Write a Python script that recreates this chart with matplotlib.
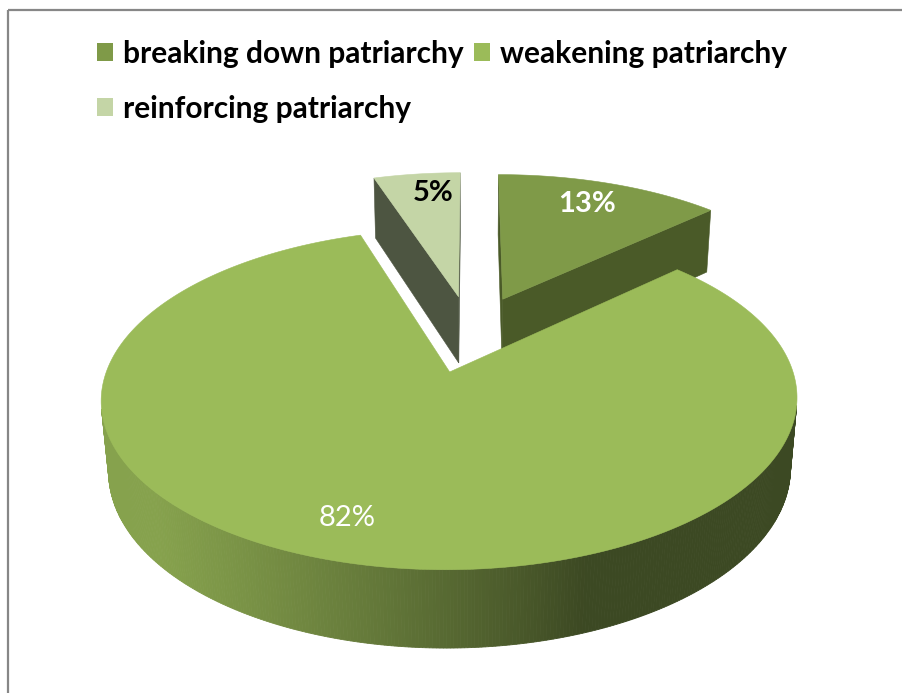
import numpy as np
import matplotlib
matplotlib.use("Agg")
import matplotlib.pyplot as plt
from matplotlib.patches import Polygon, Patch, Rectangle
from matplotlib.colors import to_rgb

# ---------------- data ----------------
categories = ["breaking down patriarchy", "weakening patriarchy", "reinforcing patriarchy"]
values = [13, 82, 5]
value_labels = ["13%", "82%", "5%"]

# ---------------- style ----------------
top_colors = ["#7F9A48", "#9BBB59", "#C4D5A6"]
face_colors = ["#4A5A28", "#4A5A28", "#4D5541"]
label_colors = ["white", "white", "black"]
label_weights = ["bold", "normal", "bold"]
label_nudge = [(-2, -3), (-24, 3), (8, -5)]
FONT = "Lato"

W, HP = 903, 693
fig = plt.figure(figsize=(W / 100, HP / 100), dpi=100)
ax = fig.add_axes([0, 0, 1, 1])
ax.set_xlim(0, W)
ax.set_ylim(HP, 0)
ax.axis("off")

# perspective camera for the 3-D pie
OX, OY = 471.0, 333.3
FOC = 1887.0
DIST = 5.71
SN = 0.465
CS = np.sqrt(1 - SN ** 2)
EXPLODE = 0.25
THICK = 0.237
cam = np.array([0.0, -DIST * CS])
light = np.array([-np.cos(np.radians(20)), -np.sin(np.radians(20))])


def proj(X, Y, Z):
    X = np.atleast_1d(np.asarray(X, float))
    Y = np.broadcast_to(np.asarray(Y, float), X.shape)
    Z = np.broadcast_to(np.asarray(Z, float), X.shape)
    depth = DIST + Z * CS - Y * SN
    up = Y * CS + Z * SN
    return np.column_stack([OX + FOC * X / depth, OY - FOC * up / depth])


def wall_color(base, theta):
    n = np.array([np.sin(theta), np.cos(theta)])
    t = np.clip((n @ light) / 0.94, 0, 1)
    return np.clip(np.array(to_rgb(base)) * (0.39 + 0.476 * t), 0, 1)


total = float(sum(values))
start = 0.0
slices = []
for i, v in enumerate(values):
    span = 360.0 * v / total
    a0, a1 = start, start + span
    mid = np.radians((a0 + a1) / 2)
    slices.append((i, np.radians(a0), np.radians(a1),
                   EXPLODE * np.sin(mid), EXPLODE * np.cos(mid)))
    start = a1

for i, t0, t1, cx, cz in sorted(slices, key=lambda s: -s[4]):
    n = max(int(np.degrees(t1 - t0)), 2) * 2
    th = np.linspace(t0, t1, n + 1)
    rx = cx + np.sin(th)
    rz = cz + np.cos(th)
    ctr = np.array([cx, cz])
    # radial cut faces
    for ang, sgn in ((t0, -1), (t1, 1)):
        nrm = np.array([sgn * np.cos(ang), -sgn * np.sin(ang)])
        if nrm @ (cam - ctr) > 0:
            ex, ez = cx + np.sin(ang), cz + np.cos(ang)
            pts = proj([cx, ex, ex, cx], [0, 0, -THICK, -THICK], [cz, ez, ez, cz])
            ax.add_patch(Polygon(pts, closed=True, fc=face_colors[i],
                                 ec=face_colors[i], lw=0.4))
    # outer curved wall
    for k in range(n):
        tm = 0.5 * (th[k] + th[k + 1])
        nrm = np.array([np.sin(tm), np.cos(tm)])
        if nrm @ (cam - (ctr + nrm)) > 0:
            col = wall_color(top_colors[i], tm)
            pts = proj([rx[k], rx[k + 1], rx[k + 1], rx[k]],
                       [0, 0, -THICK, -THICK],
                       [rz[k], rz[k + 1], rz[k + 1], rz[k]])
            ax.add_patch(Polygon(pts, closed=True, fc=col, ec=col, lw=0.6))
    # top face
    pts = proj(np.r_[cx, rx], 0.0, np.r_[cz, rz])
    ax.add_patch(Polygon(pts, closed=True, fc=top_colors[i], ec=top_colors[i], lw=0.4))

# value labels
for i, t0, t1, cx, cz in slices:
    mid = (t0 + t1) / 2
    p = proj(cx + 0.78 * np.sin(mid), 0.0, cz + 0.78 * np.cos(mid))[0]
    ax.text(p[0] + label_nudge[i][0], p[1] + label_nudge[i][1], value_labels[i],
            ha="center", va="center", color=label_colors[i],
            fontsize=21, fontweight=label_weights[i], family=FONT)

# legend (row-major order: breaking, weakening / reinforcing)
order = [0, 2, 1]
handles = [Patch(fc=top_colors[k], ec="none") for k in order]
ax.legend(handles, [categories[k] for k in order], loc="upper left",
          bbox_to_anchor=(97 / W, 1 - 40 / HP), ncol=2, frameon=False,
          prop={"family": FONT, "weight": "bold", "size": 21.5},
          handlelength=0.55, handleheight=0.55, handletextpad=0.33,
          columnspacing=0.33, labelspacing=0.9, borderpad=0, borderaxespad=0)

# chart-area border
ax.add_patch(Rectangle((8, 10), 1000, 1000, fill=False, ec="#878787", lw=1.6))

fig.savefig("out.png", dpi=100)
